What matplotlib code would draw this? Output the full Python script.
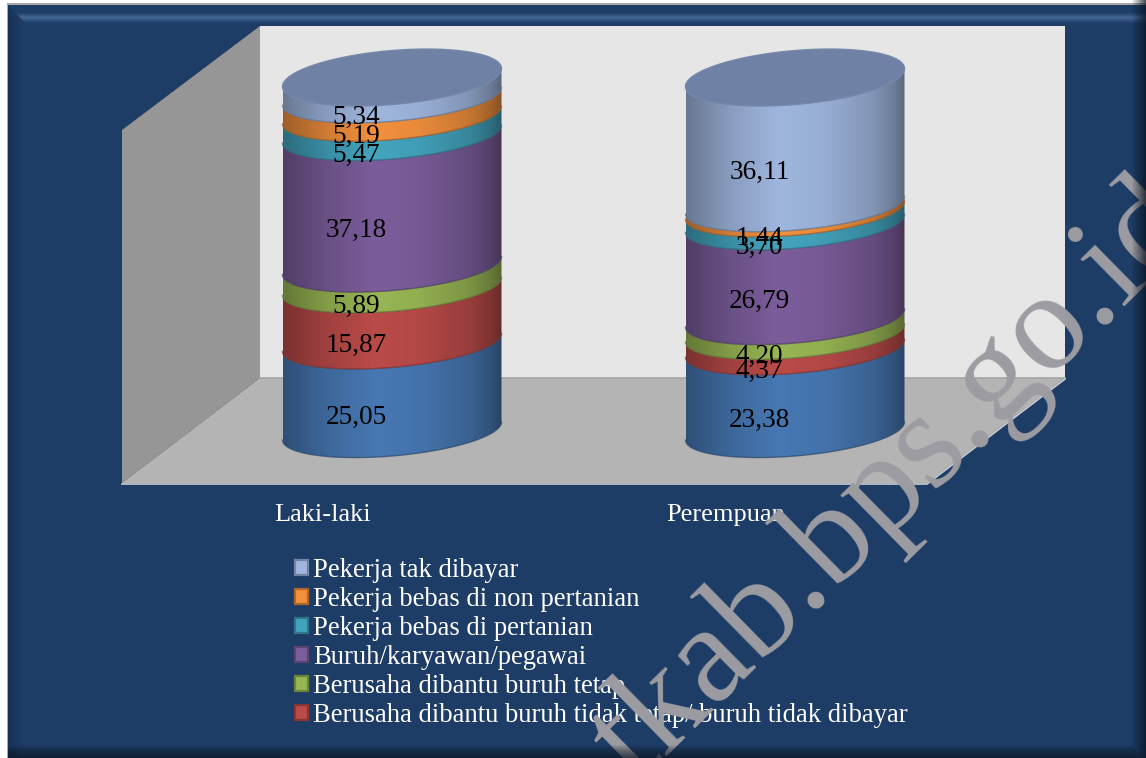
"""
Stacked cylinder chart of workers by status and sex.
"""
import numpy as np
import matplotlib

matplotlib.use("Agg")
import matplotlib.pyplot as plt
from matplotlib.colors import to_rgb
from matplotlib.patches import Patch, Polygon

W, H = 1146, 758

categories = ["Laki-laki", "Perempuan"]
series = [
    "Berusaha sendiri",
    "Berusaha dibantu buruh tidak tetap/ buruh tidak dibayar",
    "Berusaha dibantu buruh tetap",
    "Buruh/karyawan/pegawai",
    "Pekerja bebas di pertanian",
    "Pekerja bebas di non pertanian",
    "Pekerja tak dibayar",
]
laki = [25.05, 15.87, 5.89, 37.18, 5.47, 5.19, 5.34]
perempuan = [23.38, 4.37, 4.20, 26.79, 3.70, 1.44, 36.11]
colors = ["#4778b3", "#ba4b49", "#98b654", "#7b5d9b", "#43a4be", "#f2903d", "#9fb6de"]

SERIF = "Liberation Serif"
NAVY = np.array(to_rgb("#1d3c66"))

# pixel layout of the plot: category 0 at x=392, 1 at x=795, value 0 at y=431
X0, XSTEP = 392.0, 403.0
Y0, YSTEP = 431.0, 3.535
RX = 109.5 / XSTEP
TILT = 9.0 / YSTEP
RY = 25.0 / YSTEP


def px(x, y):
    # figure pixel to data coordinates of the chart axes
    return (x - X0) / XSTEP, (Y0 - y) / YSTEP


def front_arc(cx, level):
    # Front half of the tilted ellipse, left to right
    t = np.linspace(np.pi, 2 * np.pi, 80)
    return cx + RX * np.cos(t), level + TILT * np.cos(t) + RY * np.sin(t)


def shade_strip(color):
    u = np.linspace(0, 1, 220)
    s = np.interp(
        u, [0, 0.06, 0.2, 0.42, 0.62, 0.85, 0.95, 1], [0.66, 0.72, 0.86, 1, 0.96, 0.82, 0.68, 0.56]
    )
    return (np.array(to_rgb(color))[None, :] * s[:, None])[None, :, :]


def draw_cylinder(ax, cx, values):
    tops = np.cumsum(values)
    bottoms = tops - np.array(values)
    for i in range(len(values)):
        xb, yb = front_arc(cx, bottoms[i])
        xt, yt = front_arc(cx, tops[i])
        verts = np.vstack([np.column_stack([xb, yb]), np.column_stack([xt, yt])[::-1]])
        im = ax.imshow(
            shade_strip(colors[i]),
            extent=(cx - RX, cx + RX, bottoms[i] - 2 * RY, tops[i] + 2 * RY),
            aspect="auto",
            zorder=3 + i * 0.1,
        )
        clip = Polygon(verts, closed=True, transform=ax.transData)
        im.set_clip_path(clip)
        ax.plot(xb, yb, color=np.array(to_rgb(colors[i])) * 0.6, lw=1, alpha=0.7, zorder=3.05 + i * 0.1)

    # top cap
    t = np.linspace(0, 2 * np.pi, 160)
    ax.fill(
        cx + RX * np.cos(t),
        tops[-1] + TILT * np.cos(t) + (RY * 1.08) * np.sin(t),
        color="#6f81a4",
        ec="#7688aa",
        lw=1,
        zorder=4,
    )

    # value labels sit on the front of the cylinder
    mids = bottoms + np.array(values) / 2
    for v, m in zip(values, mids):
        ax.text(
            cx - 0.088,
            m - 8.7,
            ("%.2f" % v).replace(".", ","),
            ha="center",
            va="center",
            family=SERIF,
            fontsize=19.6,
            color="black",
            zorder=6,
        )


def frame_image():
    img = np.ones((H, W, 3))
    img[3:, 7:] = to_rgb("#a8a8a8")
    img[5:, 8:] = NAVY
    # left bevel
    for x in range(8, 22):
        f = (x - 8) / 14
        img[5:, x] = np.array(to_rgb("#17335a")) * (1 - f) + NAVY * f
    # top bevel with its light line, mitred at the corner
    top = np.interp(np.arange(5, 24), [5, 12, 17, 23], [0.0, 0.05, 1.0, 0.0])
    for k, y in enumerate(range(5, 24)):
        c = NAVY * (1 - top[k]) + np.array(to_rgb("#426592")) * top[k]
        img[y, 8 + (y - 5) :] = c
    return img


def edge_overlay():
    over = np.zeros((H, W, 4))
    over[:, :, :3] = to_rgb("#0a1420")
    for x in range(1131, W):
        over[:, x, 3] = (x - 1131) / 15 * 0.8
    for y in range(744, H):
        over[y, 8:, 3] = np.maximum(over[y, 8:, 3], np.interp(y, [744, 750, 758], [0, 0.4, 0.75]))
    return over


# MAIN CODE
fig = plt.figure(figsize=(W / 100, H / 100), dpi=100, facecolor="white")

# Background frame and chart walls, in pixels
bg = fig.add_axes((0, 0, 1, 1), zorder=0)
bg.imshow(frame_image(), extent=(0, W, H, 0), aspect="auto", interpolation="nearest")
bg.add_patch(Polygon([(260, 26), (1065, 26), (1065, 378), (260, 378)], color="#e6e6e6", lw=0))
bg.add_patch(Polygon([(122, 130), (260, 26), (260, 378), (122, 483)], color="#969696", lw=0))
bg.add_patch(Polygon([(122, 483), (260, 378), (1065, 378), (927, 483)], color="#b4b4b4", lw=0))
bg.plot([260, 1065], [378, 378], color="#a4a4a4", lw=1.2)
bg.plot([122, 927, 1065], [484, 484, 379], color="#cfcfcf", lw=1.2)
bg.set_xlim(0, W)
bg.set_ylim(H, 0)
bg.axis("off")

# Chart axes, value scale on y and category position on x
ax = fig.add_axes((0, 0, 1, 1), zorder=1)
ax.patch.set_alpha(0)
xmin, ymin = px(0, H)
xmax, ymax = px(W, 0)

for i, vals in enumerate([laki, perempuan]):
    draw_cylinder(ax, i, vals)

ax.set_xlim(xmin, xmax)
ax.set_ylim(ymin, ymax)
ax.axis("off")

for i, name in enumerate(categories):
    ax.text(
        i - 0.172,
        px(0, 515)[1],
        name,
        ha="center",
        va="center",
        family=SERIF,
        fontsize=19,
        color="white",
        zorder=6,
    )

# Legend, the first series is cut off in the original
handles = [
    Patch(facecolor=colors[i], edgecolor=np.array(to_rgb(colors[i])) * 0.72, lw=1.6, label=series[i])
    for i in range(len(series) - 1, 0, -1)
]
leg = ax.legend(
    handles=handles,
    loc="upper left",
    bbox_to_anchor=(295 / W, 1 - 558 / H),
    frameon=False,
    prop={"family": SERIF, "size": 19.2},
    labelcolor="white",
    handlelength=0.48,
    handleheight=0.48,
    handletextpad=0.2,
    labelspacing=0.15,
    borderpad=0,
    borderaxespad=0,
)
leg.set_zorder(6)

# Watermark over everything
ax.text(
    px(1201, 0)[0],
    px(0, 230)[1],
    "tkab.bps.go.id",
    rotation=44.5,
    rotation_mode="anchor",
    ha="right",
    va="baseline",
    family=SERIF,
    fontsize=101,
    color="#9c9ca2",
    zorder=10,
)

# Dark right and bottom bevel lies over the watermark
top = fig.add_axes((0, 0, 1, 1), zorder=2)
top.patch.set_alpha(0)
top.imshow(edge_overlay(), extent=(0, W, H, 0), aspect="auto", interpolation="nearest")
top.axis("off")

plt.savefig("out.png", dpi=100)
